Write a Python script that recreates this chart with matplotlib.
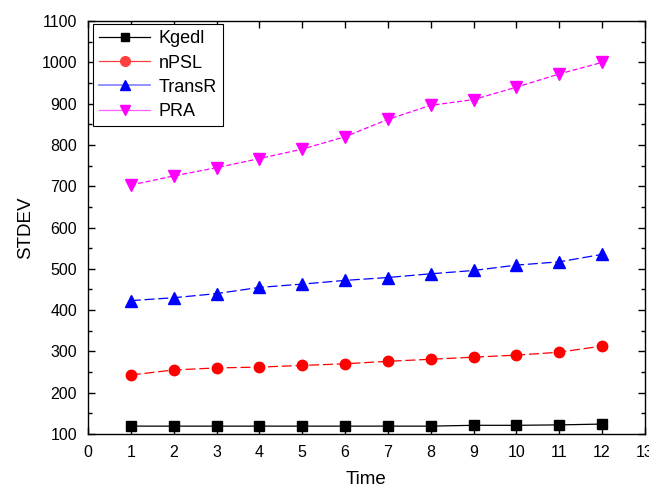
import matplotlib
matplotlib.use("Agg")
import matplotlib.pyplot as plt
from matplotlib.lines import Line2D
from matplotlib.ticker import MultipleLocator

plt.rcParams['font.family'] = ['Liberation Sans', 'DejaVu Sans']

# data
time = [1, 2, 3, 4, 5, 6, 7, 8, 9, 10, 11, 12]
kgedl = [119, 119, 119, 119, 119, 119, 119, 119, 121, 121, 122, 124]
npsl = [243, 255, 260, 262, 266, 270, 276, 281, 286, 291, 298, 313]
transr = [423, 430, 440, 455, 463, 472, 479, 488, 496, 509, 517, 535]
pra = [703, 725, 745, 767, 790, 820, 862, 896, 910, 940, 972, 1000]

fig = plt.figure(figsize=(6.49, 4.88), dpi=100)
ax = fig.add_axes([0.1356, 0.1107, 0.858, 0.846])

ax.plot(time, kgedl, color='black', lw=0.9, marker='s', ms=6.5)
ax.plot(time, npsl, color='red', lw=0.9, ls=(0, (8, 3)), marker='o', ms=7.5)
ax.plot(time, transr, color='blue', lw=0.9, ls=(0, (8, 3)), marker='^', ms=8)
ax.plot(time, pra, color='magenta', lw=0.9, ls=(0, (4, 2)), marker='v', ms=8)

ax.set_xlim(0, 13)
ax.set_ylim(100, 1100)
ax.xaxis.set_major_locator(MultipleLocator(1))
ax.yaxis.set_major_locator(MultipleLocator(100))
ax.yaxis.set_minor_locator(MultipleLocator(50))
ax.tick_params(which='both', direction='in', top=True, right=True, labelsize=11.5)
ax.tick_params(which='major', length=5, width=1, pad=8)
ax.tick_params(which='minor', length=3, width=1)
for s in ax.spines.values():
    s.set_linewidth(1)

ax.set_xlabel('Time', fontsize=13.5, labelpad=8)
ax.set_ylabel('STDEV', fontsize=13.5, labelpad=5)

handles = [
    Line2D([], [], color='black', lw=0.9, marker='s', ms=6),
    Line2D([], [], color='#ff4040', lw=0.9, marker='o', ms=7),
    Line2D([], [], color='#8080ff', lw=1.2, marker='^', mfc='blue', mec='blue', ms=7),
    Line2D([], [], color='#ff60ff', lw=0.9, marker='v', mfc='magenta', mec='magenta', ms=7),
]
leg = ax.legend(handles, ['Kgedl', 'nPSL', 'TransR', 'PRA'], loc='upper left',
                bbox_to_anchor=(0.009, 0.993), borderaxespad=0, fontsize=13,
                fancybox=False, framealpha=1, edgecolor='black',
                handlelength=2.8, handletextpad=0.5, labelspacing=0.4, borderpad=0.35)
leg.get_frame().set_linewidth(0.8)

fig.savefig('out.png', dpi=100)
